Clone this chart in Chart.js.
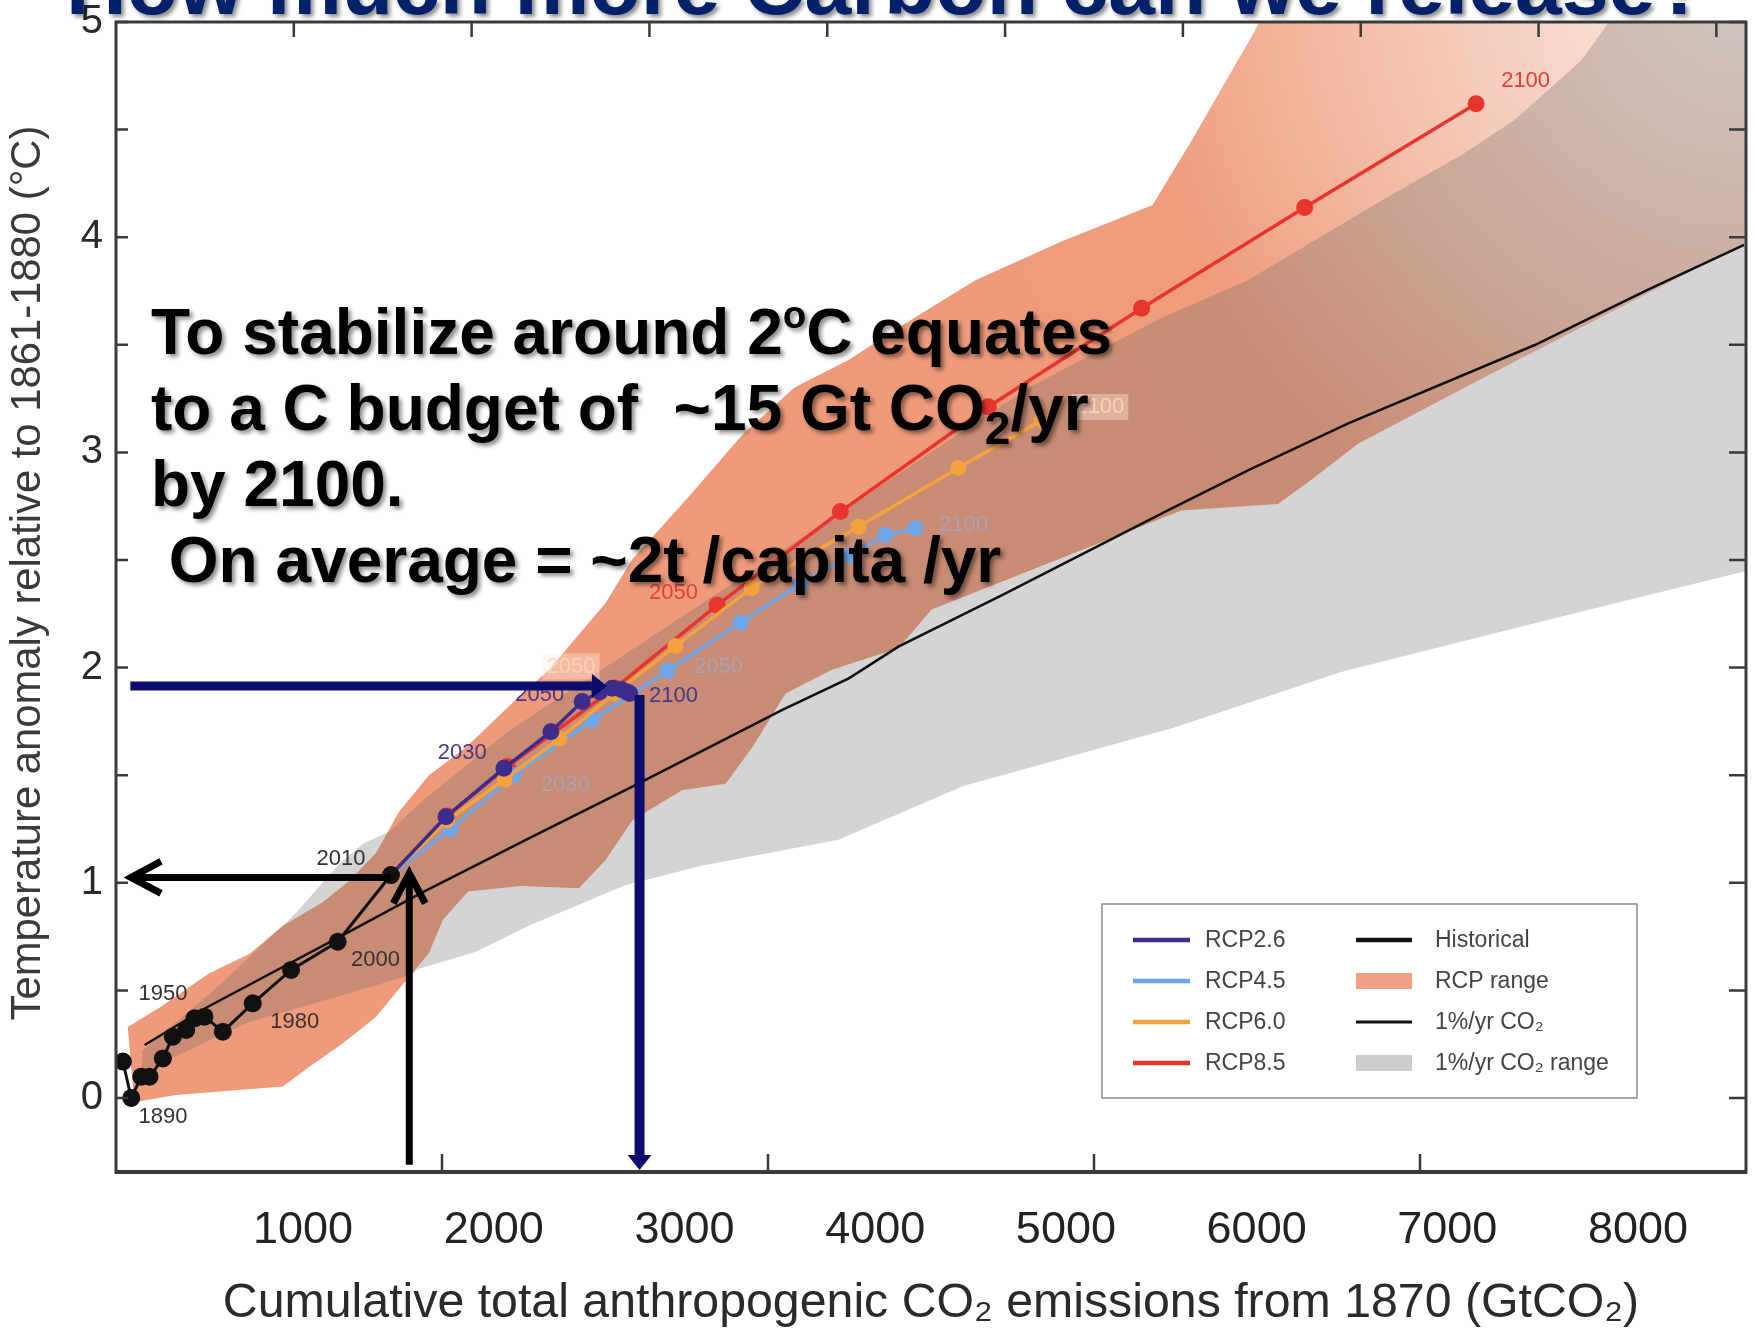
<!DOCTYPE html>
<html>
<head>
<meta charset="utf-8">
<title>How much more Carbon can we release?</title>
<script src="https://cdn.jsdelivr.net/npm/chart.js@4.4.1/dist/chart.umd.min.js"></script>
<style>
  html, body { margin: 0; padding: 0; background: #ffffff; }
  #wrap { width: 1755px; height: 1333px; position: relative; }
  canvas { display: block; }
</style>
</head>
<body>
<div id="wrap"><canvas id="chart" width="1755" height="1333"></canvas></div>
<script>
// ---------------------------------------------------------------
// Data: cumulative CO2 emissions since 1870 (GtC) vs warming (°C,
// relative to 1861-1880). Decadal points, starting from the 2010
// historical value for each RCP pathway.
// ---------------------------------------------------------------
const historical = [[10.6,0.169],[23.4,0.000],[38.7,0.099],[51.5,0.099],[71.9,0.184],[87.2,0.285],[107.7,0.316],[120.4,0.370],[135.7,0.378],[163.8,0.308],[209.7,0.440],[268.5,0.595],[340.0,0.726],[421.7,1.036]];
const rcp26 = [[421.7,1.036],[506,1.307],[595,1.532],[667,1.702],[715,1.842],[742,1.888],[761,1.904],[775,1.898],[783,1.888],[788,1.880]];
const rcp45 = [[421.7,1.036],[513,1.250],[610,1.500],[730,1.755],[846,1.985],[958,2.210],[1050,2.390],[1125,2.520],[1180,2.616],[1226,2.647]];
const rcp60 = [[421.7,1.036],[508,1.290],[596,1.480],[680,1.670],[765,1.880],[858,2.100],[975,2.370],[1139,2.655],[1292,2.928],[1420,3.150]];
const rcp85 = [[421.7,1.036],[508,1.310],[600,1.540],[765,1.905],[922,2.290],[1111,2.725],[1338,3.212],[1573,3.670],[1823,4.138],[2086,4.620]];
const onePctCO2 = [[44,0.246],[141,0.424],[348,0.757],[470,0.955],[634,1.207],[792,1.447],[1022,1.803],[1124,1.950],[1200,2.097],[1359,2.337],[1614,2.732],[1737,2.918],[1890,3.135],[2176,3.499],[2349,3.755],[2497,3.964]];

// Range envelopes (upper edge left->right, lower edge left->right)
const rcpRangeUpper = [[18,0.33],[67,0.42],[143,0.58],[205,0.67],[256,0.80],[317,0.91],[358,1.01],[399,1.14],[434,1.33],[480,1.50],[537,1.63],[613,1.85],[664,1.99],[720,2.19],[751,2.30],[791,2.50],[880,2.80],[960,3.08],[1040,3.30],[1124,3.43],[1211,3.60],[1318,3.80],[1450,3.98],[1590,4.15],[1650,4.45],[1745,4.95],[1770,5.10],[2600,5.10]];
const rcpRangeLower = [[28,-0.02],[92,0.014],[256,0.053],[297,0.146],[348,0.254],[399,0.378],[450,0.564],[480,0.672],[501,0.827],[540,0.960],[620,0.985],[710,0.975],[751,1.106],[792,1.290],[868,1.430],[935,1.460],[976,1.630],[1027,1.880],[1098,1.990],[1200,2.090],[1251,2.270],[1634,2.730],[1782,2.760],[1828,2.860],[1905,3.040],[2093,3.340],[2247,3.580],[2498,3.970],[2600,4.120]];
const onePctRangeUpper = [[40,0.22],[150,0.50],[276,0.86],[340,1.08],[378,1.18],[420,1.24],[470,1.38],[600,1.70],[800,2.10],[1000,2.50],[1200,2.90],[1400,3.30],[1600,3.62],[1736,3.80],[1941,4.17],[2068,4.39],[2145,4.545],[2247,4.82],[2290,5.00],[2600,5.60]];
const onePctRangeLower = [[40,0.12],[200,0.35],[350,0.48],[450,0.57],[465,0.60],[552,0.68],[633,0.80],[782,0.99],[900,1.08],[1108,1.20],[1300,1.45],[1622,1.72],[1879,1.98],[2188,2.215],[2500,2.449],[2600,2.52]];

// Axis ticks
const yTickValues = [0,0.5,1,1.5,2,2.5,3,3.5,4,4.5,5];
const gtco2TickLabels = [1000,2000,3000,4000,5000,6000,7000,8000];
const bottomTicksGtC = [500,1000,1500,2000];
const topTicksGtCO2 = [1000,2000,3000,4000,5000,6000,7000,8000,9000];

// Year labels next to the decadal points (GtC, °C)
const yearLabels = [
  {series:'Historical', text:'1890', x:72,   y:-0.088},
  {series:'Historical', text:'1950', x:72,   y:0.483},
  {series:'Historical', text:'1980', x:274,  y:0.353},
  {series:'Historical', text:'2000', x:398,  y:0.641},
  {series:'Historical', text:'2010', x:345,  y:1.113},
  {series:'RCP4.5',     text:'2030', x:689,  y:1.456},
  {series:'RCP4.5',     text:'2050', x:924,  y:2.004},
  {series:'RCP4.5',     text:'2100', x:1300, y:2.663},
  {series:'RCP6.0',     text:'2050', x:698,  y:2.005},
  {series:'RCP6.0',     text:'2100', x:1509, y:3.211},
  {series:'RCP8.5',     text:'2050', x:855,  y:2.349},
  {series:'RCP8.5',     text:'2100', x:2162, y:4.727},
  {series:'RCP2.6',     text:'2030', x:531,  y:1.605},
  {series:'RCP2.6',     text:'2050', x:650,  y:1.873},
  {series:'RCP2.6',     text:'2100', x:855,  y:1.866}
];

// Budget read-off arrows [x1, y1, x2, y2] in GtC / °C
const presentArrows = [[421.7,1.025,23,1.025],[449.8,-0.31,449.8,1.044]];
const budgetArrows  = [[22,1.915,753,1.915],[803,1.873,803,-0.335]];

// ---------------------------------------------------------------
const SANS = '"Liberation Sans", Arial, Helvetica, sans-serif';
const measureCtx = document.createElement('canvas').getContext('2d');
function fontAvailable(name) {
  const probe = 'mmmmwwwwlli0123456789';
  return ['monospace', 'serif'].some(fb => {
    measureCtx.font = '40px ' + fb;
    const w0 = measureCtx.measureText(probe).width;
    measureCtx.font = '40px "' + name + '", ' + fb;
    return measureCtx.measureText(probe).width !== w0;
  });
}
const hasNarrow = fontAvailable('Liberation Sans Narrow');
const NARROW = hasNarrow ? '"Liberation Sans Narrow", ' + SANS : SANS;
const yTickSize = hasNarrow ? 47 : 40;
const xTickSize = hasNarrow ? 53 : 45;

function fitSize(text, weight, family, width) {
  measureCtx.font = weight + ' 100px ' + family;
  return 100 * width / measureCtx.measureText(text).width;
}

const xTitle = 'Cumulative total anthropogenic CO\u2082 emissions from 1870 (GtCO\u2082)';
const yTitle = 'Temperature anomaly relative to 1861-1880 (\u00B0C)';
const chartTitle = 'How much more Carbon can we release?';
const xTitleSize = fitSize(xTitle, 'normal', SANS, 1417);
const yTitleSize = fitSize(yTitle, 'normal', SANS, 895);
const titleSize = fitSize(chartTitle, 'bold', SANS, 1641);

const colors = {
  'Historical': '#111111',
  'RCP2.6': '#3b2c8d',
  'RCP4.5': '#6fa6ea',
  'RCP6.0': '#f4a23e',
  'RCP8.5': '#e8342c'
};
const labelStyles = {
  'Historical': {color:'#333333', weight:'normal'},
  'RCP2.6': {color:'#47388a', weight:'normal'},
  'RCP4.5': {color:'rgba(150,176,236,0.55)', weight:'normal'},
  'RCP6.0': {color:'rgba(255,214,176,0.9)', weight:'normal', box:'rgba(255,236,224,0.4)'},
  'RCP8.5': {color:'#e23f37', weight:'normal'}
};

const pts = arr => arr.map(([x, y]) => ({x, y}));
const polygon = (upper, lower) => pts(upper.concat(lower.slice().reverse()));

function rcpRangeFill(context) {
  const chart = context.chart;
  const sx = chart.scales.x, sy = chart.scales.y;
  if (!chart.chartArea || !sx || !sy) return 'rgb(239,154,122)';
  const cx = sx.getPixelForValue(2500), cy = sy.getPixelForValue(5.2);
  const g = chart.ctx.createRadialGradient(cx, cy, 0, cx, cy, 900);
  g.addColorStop(0, 'rgb(250,236,230)');
  g.addColorStop(0.3, 'rgb(246,206,190)');
  g.addColorStop(0.5, 'rgb(242,182,157)');
  g.addColorStop(0.68, 'rgb(239,157,125)');
  g.addColorStop(1, 'rgb(239,154,122)');
  return g;
}

function seriesLine(label, data, order, radius, width) {
  return {
    label, data: pts(data), order,
    borderColor: colors[label], backgroundColor: colors[label],
    borderWidth: width, pointRadius: radius, pointBorderWidth: 0,
    pointBackgroundColor: colors[label], fill: false
  };
}

const datasets = [
  seriesLine('Historical', historical, 0, 9, 3),
  seriesLine('RCP2.6', rcp26, 1, 8.5, 3.5),
  seriesLine('RCP6.0', rcp60, 2, 8, 3.5),
  seriesLine('RCP4.5', rcp45, 3, 8, 3.5),
  seriesLine('RCP8.5', rcp85, 4, 8.5, 3.5),
  {label:'1%/yr CO\u2082', data: pts(onePctCO2), order: 5, borderColor:'#111111',
   backgroundColor:'#111111', borderWidth: 2.5, pointRadius: 0, fill: false},
  {label:'1%/yr CO\u2082 range', data: polygon(onePctRangeUpper, onePctRangeLower), order: 6,
   borderWidth: 0, pointRadius: 0, fill: 'shape', backgroundColor: 'rgba(100,100,100,0.28)'},
  {label:'RCP range', data: polygon(rcpRangeUpper, rcpRangeLower), order: 7,
   borderWidth: 0, pointRadius: 0, fill: 'shape', backgroundColor: rcpRangeFill}
];

const legendColumns = [
  ['RCP2.6', 'RCP4.5', 'RCP6.0', 'RCP8.5'],
  ['Historical', 'RCP range', '1%/yr CO\u2082', '1%/yr CO\u2082 range']
];
const legendSwatch = {'RCP range': 'rgb(240,160,132)', '1%/yr CO\u2082 range': 'rgb(204,204,204)'};

function solidArrow(ctx, x1, y1, x2, y2, w, len, half, color) {
  const ang = Math.atan2(y2 - y1, x2 - x1);
  const bx = x2 - Math.cos(ang) * len, by = y2 - Math.sin(ang) * len;
  ctx.strokeStyle = color; ctx.lineWidth = w; ctx.lineCap = 'butt';
  ctx.beginPath(); ctx.moveTo(x1, y1); ctx.lineTo(bx, by); ctx.stroke();
  ctx.fillStyle = color;
  ctx.beginPath(); ctx.moveTo(x2, y2);
  ctx.lineTo(bx - Math.sin(ang) * half, by + Math.cos(ang) * half);
  ctx.lineTo(bx + Math.sin(ang) * half, by - Math.cos(ang) * half);
  ctx.closePath(); ctx.fill();
}
function openArrow(ctx, x1, y1, x2, y2, w, len, half, color) {
  const ang = Math.atan2(y2 - y1, x2 - x1);
  const bx = x2 - Math.cos(ang) * len, by = y2 - Math.sin(ang) * len;
  ctx.strokeStyle = color; ctx.lineWidth = w; ctx.lineCap = 'butt'; ctx.lineJoin = 'miter';
  ctx.beginPath(); ctx.moveTo(x1, y1); ctx.lineTo(x2, y2); ctx.stroke();
  ctx.beginPath();
  ctx.moveTo(bx - Math.sin(ang) * half, by + Math.cos(ang) * half);
  ctx.lineTo(x2, y2);
  ctx.lineTo(bx + Math.sin(ang) * half, by - Math.cos(ang) * half);
  ctx.stroke();
}

function drawRich(ctx, x, base, parts, size) {
  let cx = x;
  for (const p of parts) {
    const s = p.sup ? size * 0.6 : p.sub ? size * 0.72 : size;
    const dy = p.sup ? -size * 0.40 : p.sub ? size * 0.22 : 0;
    ctx.font = 'bold ' + s + 'px ' + SANS;
    ctx.fillText(p.t, cx, base + dy);
    cx += ctx.measureText(p.t).width;
  }
}

const noteLines = [
  {x: 151, base: 354, parts: [{t:'To stabilize around 2'}, {t:'o', sup:true}, {t:'C equates'}]},
  {x: 151, base: 430, parts: [{t:'to a C budget of  ~15 Gt CO'}, {t:'2', sub:true}, {t:'/yr'}]},
  {x: 151, base: 506, parts: [{t:'by 2100.'}]},
  {x: 151, base: 582, parts: [{t:' On average = ~2t /capita /yr'}]}
];

const decor = {
  id: 'decor',
  afterDatasetsDraw(chart) {
    const {ctx, chartArea: a} = chart;
    const sx = chart.scales.x, sy = chart.scales.y;
    const px = v => sx.getPixelForValue(v), py = v => sy.getPixelForValue(v);
    ctx.save();

    // year labels
    ctx.textAlign = 'center'; ctx.textBaseline = 'middle';
    for (const lab of yearLabels) {
      const st = labelStyles[lab.series];
      ctx.font = st.weight + ' 22px ' + SANS;
      const cx = px(lab.x), cy = py(lab.y);
      if (st.box) {
        const w = ctx.measureText(lab.text).width + 8;
        ctx.fillStyle = st.box; ctx.fillRect(cx - w / 2, cy - 13, w, 26);
      }
      ctx.fillStyle = st.color; ctx.fillText(lab.text, cx, cy);
    }

    // legend box
    const bl = a.left + 986, bt = a.top + 882, bw = 535, bh = 194;
    ctx.fillStyle = '#ffffff'; ctx.fillRect(bl, bt, bw, bh);
    ctx.strokeStyle = '#8a8a8a'; ctx.lineWidth = 1.5; ctx.strokeRect(bl, bt, bw, bh);
    const rowOff = [36, 77, 118, 159];
    const colSample = [[31, 88, 103], [254, 310, 333]];
    ctx.textAlign = 'left'; ctx.textBaseline = 'middle';
    ctx.font = '23px ' + SANS;
    legendColumns.forEach((col, ci) => {
      col.forEach((label, ri) => {
        const ds = chart.data.datasets.find(d => d.label === label);
        const yy = bt + rowOff[ri];
        const [s0, s1, tx] = colSample[ci];
        if (ds.fill) {
          ctx.fillStyle = legendSwatch[label];
          ctx.fillRect(bl + s0, yy - 8, s1 - s0, 16);
        } else {
          ctx.strokeStyle = ds.borderColor;
          ctx.lineWidth = label === '1%/yr CO\u2082' ? 3 : 4.5;
          ctx.beginPath(); ctx.moveTo(bl + s0, yy); ctx.lineTo(bl + s1, yy); ctx.stroke();
        }
        ctx.fillStyle = '#444444';
        ctx.fillText(label, bl + tx, yy + 1);
      });
    });

    // plot frame with inward ticks
    ctx.strokeStyle = '#3a3a3a'; ctx.lineWidth = 3;
    ctx.strokeRect(a.left, a.top, a.right - a.left, a.bottom - a.top);
    ctx.lineWidth = 4;
    ctx.beginPath(); ctx.moveTo(a.left - 1, a.bottom); ctx.lineTo(a.right + 1, a.bottom); ctx.stroke();
    ctx.lineWidth = 2.5;
    ctx.beginPath();
    for (const v of yTickValues) {
      const yy = py(v);
      ctx.moveTo(a.left, yy); ctx.lineTo(a.left + 12, yy);
      ctx.moveTo(a.right - 17, yy); ctx.lineTo(a.right, yy);
    }
    for (const v of topTicksGtCO2) {
      const xx = px(v * 12 / 44);
      ctx.moveTo(xx, a.top); ctx.lineTo(xx, a.top + 15);
    }
    for (const v of bottomTicksGtC) {
      const xx = px(v);
      ctx.moveTo(xx, a.bottom); ctx.lineTo(xx, a.bottom - 18);
    }
    ctx.stroke();

    // read-off arrows
    for (const [x1, y1, x2, y2] of presentArrows) {
      openArrow(ctx, px(x1), py(y1), px(x2), py(y2), 7, 30, 16, '#000000');
    }
    const navy = '#0c0c6e';
    const [h, v] = budgetArrows;
    solidArrow(ctx, px(h[0]), py(h[1]), px(h[2]), py(h[3]), 9, 15, 12, navy);
    solidArrow(ctx, px(v[0]), py(v[1]), px(v[2]), py(v[3]), 10, 15, 12, navy);
    ctx.restore();
  },
  afterDraw(chart) {
    const {ctx} = chart;
    ctx.save();
    // y axis title
    ctx.translate(28, 573);
    ctx.rotate(-Math.PI / 2);
    ctx.textAlign = 'center'; ctx.textBaseline = 'middle';
    ctx.font = yTitleSize + 'px ' + SANS;
    ctx.fillStyle = '#3a3a3a';
    ctx.fillText(yTitle, 0, 0);
    ctx.restore();

    ctx.save();
    ctx.shadowColor = 'rgba(0,0,0,0.45)';
    ctx.shadowOffsetX = 3; ctx.shadowOffsetY = 3; ctx.shadowBlur = 4;
    ctx.textAlign = 'left'; ctx.textBaseline = 'alphabetic';
    ctx.fillStyle = '#000000';
    for (const ln of noteLines) drawRich(ctx, ln.x, ln.base, ln.parts, 64);

    ctx.fillStyle = '#03216a';
    ctx.font = 'bold ' + titleSize + 'px ' + SANS;
    ctx.fillText(chartTitle, 66, 14);
    ctx.restore();
  }
};

Chart.defaults.font.family = SANS;

new Chart(document.getElementById('chart'), {
  type: 'line',
  data: { datasets },
  options: {
    responsive: false,
    animation: false,
    events: [],
    layout: { padding: { top: 22, right: 7, left: 0, bottom: 0 } },
    elements: { line: { tension: 0 } },
    plugins: { legend: { display: false }, tooltip: { enabled: false }, title: { display: false } },
    scales: {
      x: { type: 'linear', min: 0, max: 2500, display: false },
      xg: {
        type: 'linear', position: 'bottom', min: 19, max: 8566,
        grid: { display: false, drawTicks: false }, border: { display: false },
        afterBuildTicks: s => { s.ticks = gtco2TickLabels.map(v => ({ value: v })); },
        ticks: { autoSkip: false, maxRotation: 0, padding: 32, color: '#222222',
                 font: { family: NARROW, size: xTickSize }, callback: v => String(v) },
        title: { display: true, text: xTitle, color: '#2a2a2a',
                 font: { family: SANS, size: xTitleSize }, padding: { top: 0, bottom: 0 } },
        afterFit: s => { s.height = 161; s.paddingLeft = 0; s.paddingRight = 0; }
      },
      y: {
        type: 'linear', position: 'left', min: -0.344, max: 5,
        grid: { display: false, drawTicks: false }, border: { display: false },
        afterBuildTicks: s => { s.ticks = yTickValues.map(v => ({ value: v })); },
        ticks: { autoSkip: false, padding: 13, color: '#2a2a2a',
                 font: { family: NARROW, size: yTickSize },
                 callback: v => Number.isInteger(v) ? String(v) : '' },
        afterFit: s => { s.width = 116; s.paddingTop = 0; s.paddingBottom = 0; }
      }
    }
  },
  plugins: [decor]
});
</script>
</body>
</html>
